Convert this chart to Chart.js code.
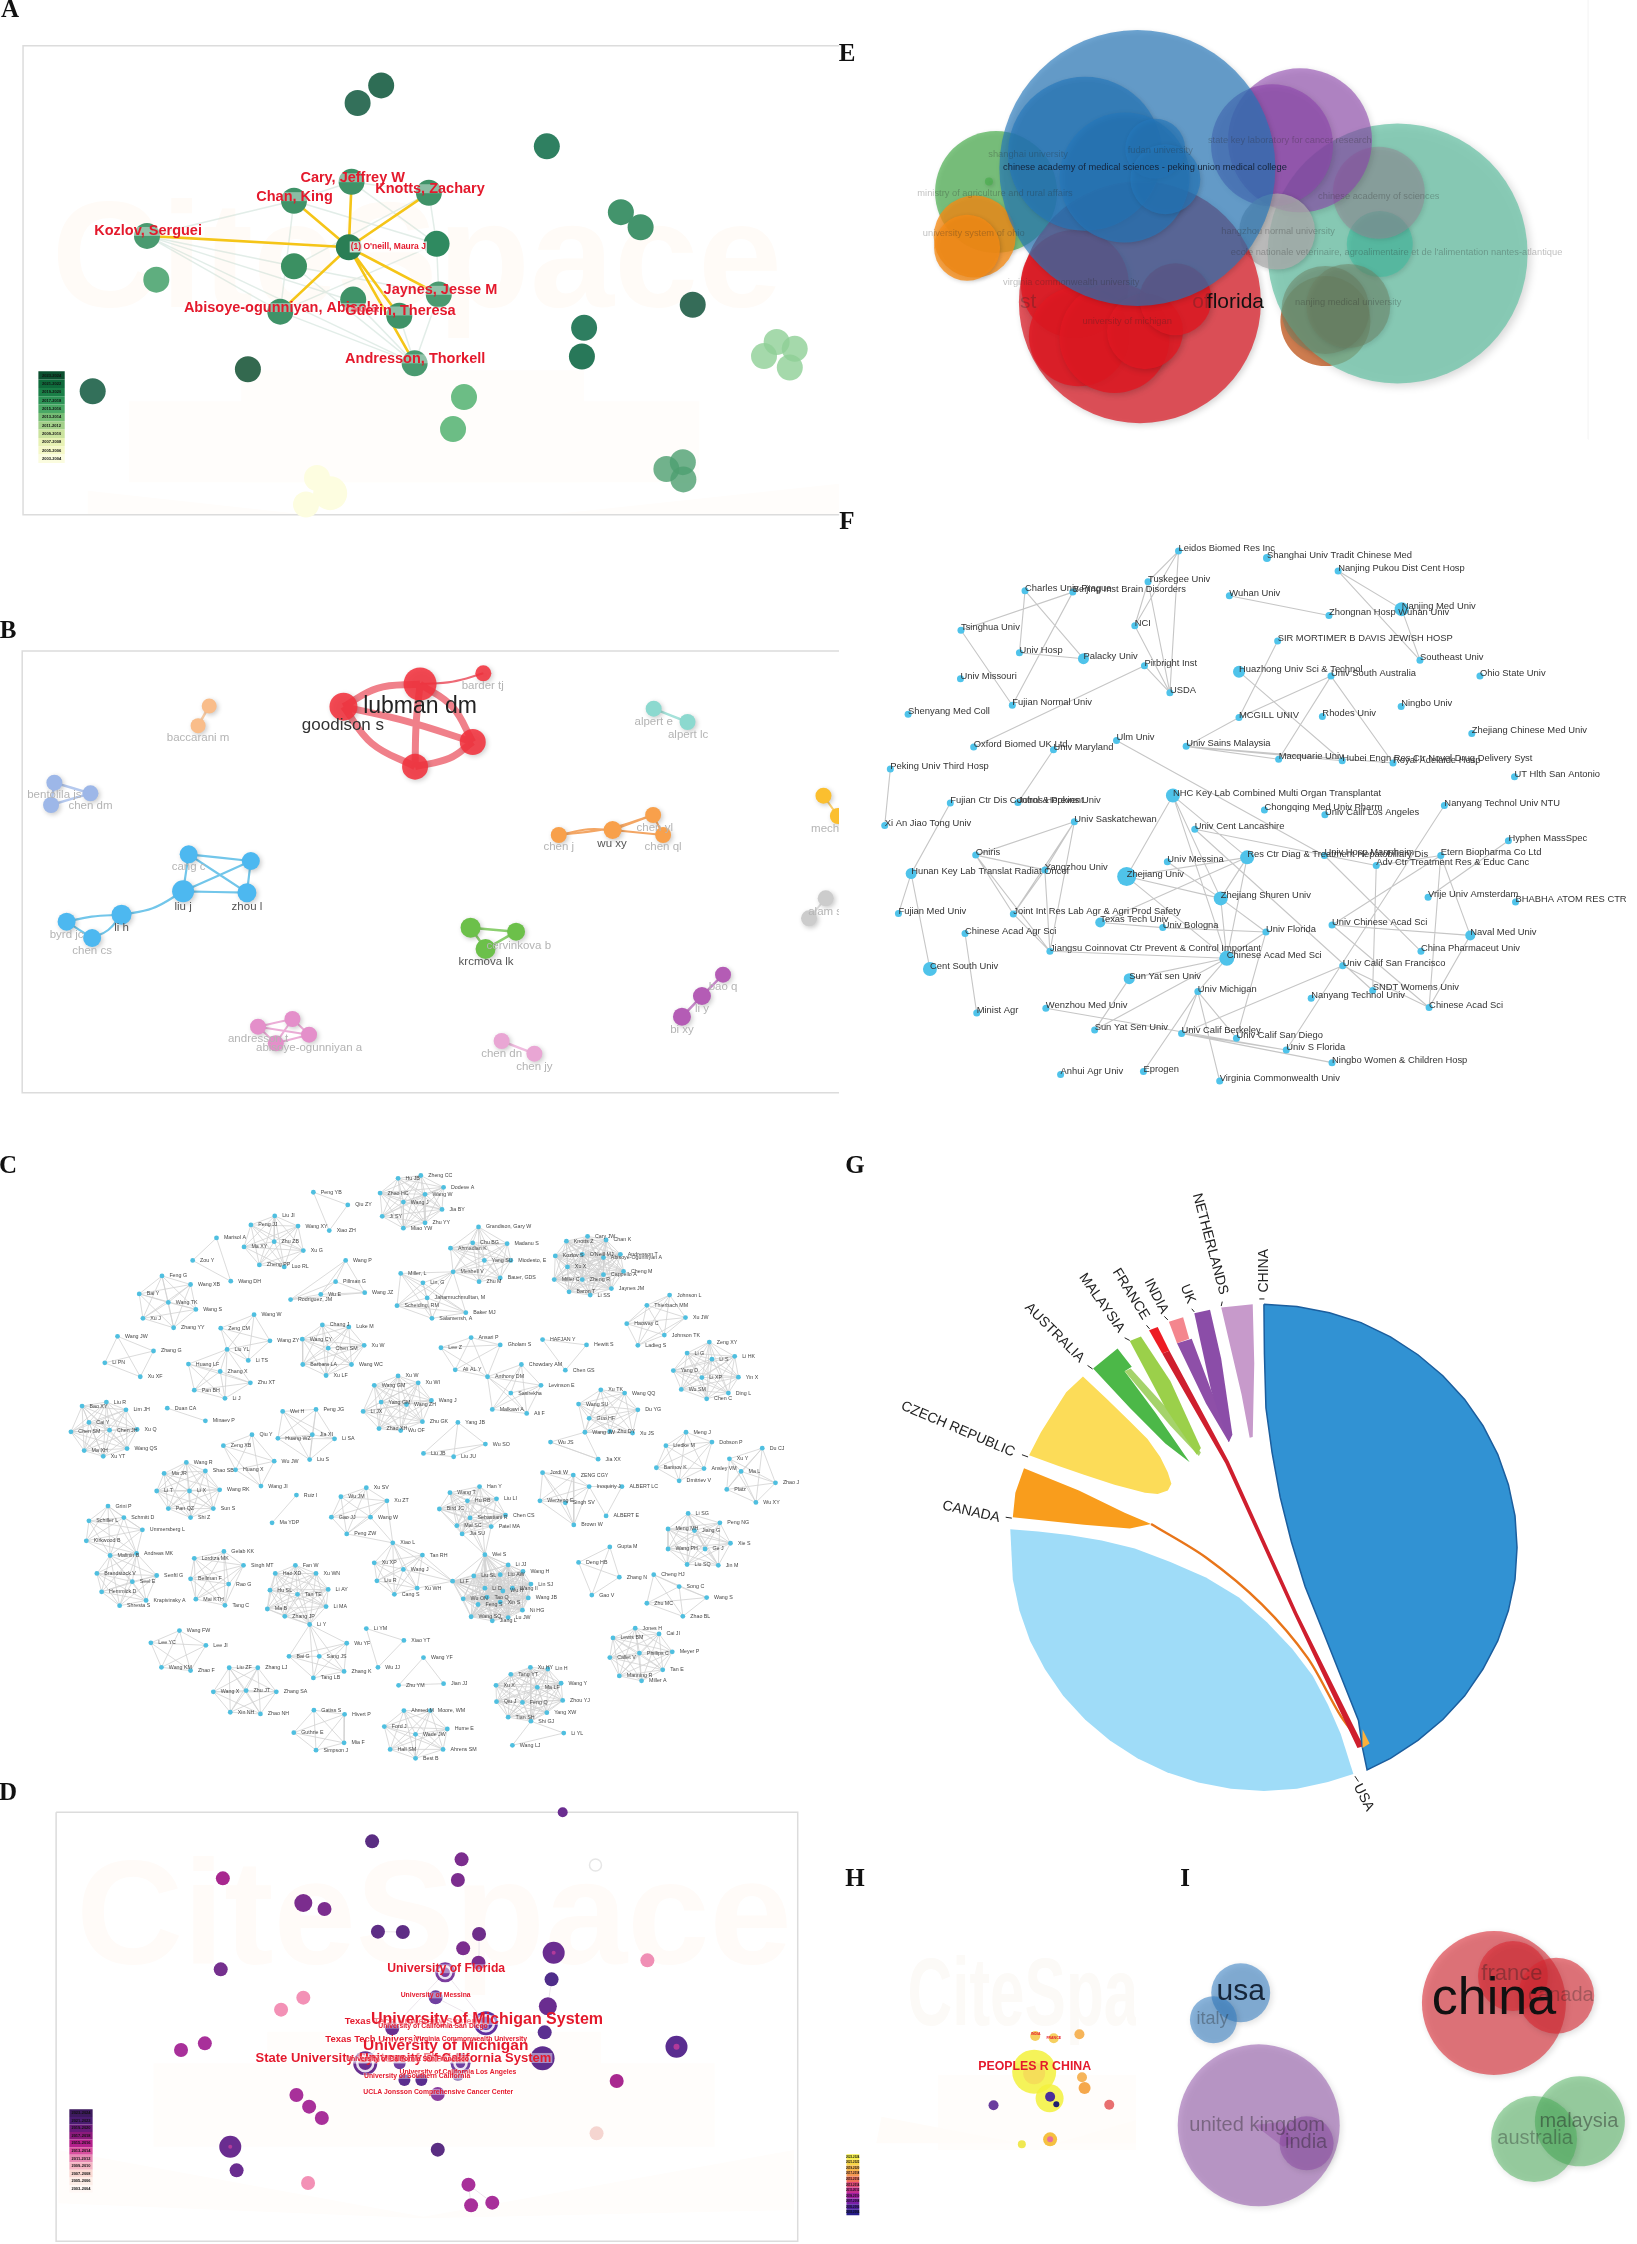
<!DOCTYPE html>
<html>
<head>
<meta charset="utf-8">
<script src="https://cdn.jsdelivr.net/npm/chart.js@4"></script>
<style>
  html, body { margin: 0; background: #fff; }
  #figure { position: relative; width: 1637px; height: 2244px; overflow: hidden; }
  #figure canvas { position: absolute; }
  .tag { position: absolute; font: bold 25px "Liberation Serif", serif; color: #111; transform: translate(-50%, -50%); }
</style>
</head>
<body>
<div id="figure"></div>
<script>
const sans = '"Liberation Sans", Arial, sans-serif';

// ---- panel letters
const tagNames = ['A', 'B', 'C', 'D', 'E', 'F', 'G', 'H', 'I'];
const tagX = [10, 8, 8, 8, 847, 847, 855, 855, 1185];
const tagY = [9, 630, 1165, 1792, 53, 521, 1165, 1878, 1878];

const legendYears = ['2023-2024', '2021-2022', '2019-2020', '2017-2018', '2015-2016', '2013-2014', '2011-2012', '2009-2010', '2007-2008', '2005-2006', '2003-2004'];

// ---- A: author co-citation
const aNodes = [[695,248],[652,299],[997,425],[1132,616],[1168,660],[268,685],[536,583],[641,528],[782,560],[796,708],[636,718],[536,773],[285,812],[644,870],[800,855],[728,917],[511,905],[1263,885],[1065,952],[1061,1035],[452,1072],[169,1136],[756,1055],[846,1153],[826,1246],[1416,993],[1449,1013],[1393,1034],[1440,1067],[1215,1362],[1245,1342],[1246,1392],[578,1388],[602,1432],[558,1465]];
const aColors = ['#2e6d55','#33705a','#2f8061','#43946c','#43946c','#4a9a70','#3f9268','#3f9268','#3f9268','#2f8a60','#2a7e55','#3b9062','#5fae7f','#3f9268','#4a9a70','#3f9268','#3f9268','#356c58','#2e7e60','#287859','#33694f','#33705a','#4a9a70','#6cbd85','#6cbd85','#8ecf96cc','#8ecf96cc','#8ecf96cc','#8ecf96cc','#4d9f70cc','#4d9f70cc','#4d9f70cc','#fdfde0','#fdfde0','#fdfde0'];
const aRadius = [13,13,13,13,13,13,13,13,13,13,13,13,13,13,13,13,13,13,13,13,13,13,13,13,13,13,13,13,13,13,13,13,13,17,13];
const aGold = [[636,718,268,685],[636,718,536,583],[636,718,641,528],[636,718,782,560],[636,718,511,905],[636,718,800,855],[636,718,728,917],[636,718,756,1055]];
const aFaint = [[268,685,536,583],[268,685,536,773],[268,685,511,905],[268,685,756,1055],[268,685,728,917],[536,583,641,528],[536,583,796,708],[536,583,511,905],[641,528,782,560],[641,528,796,708],[782,560,796,708],[782,560,536,773],[796,708,800,855],[796,708,511,905],[536,773,800,855],[511,905,756,1055],[644,870,756,1055],[800,855,756,1055],[728,917,756,1055],[536,773,756,1055]];
const aLabels = [['Cary, Jeffrey W',643,516],['Knotts, Zachary',784,548],['Chan, King',537,571],['Kozlov, Serguei',270,672],['Jaynes, Jesse M',803,843],['Abisoye-ogunniyan, Abisola',513,893],['Guerin, Theresa',730,903],['Andresson, Thorkell',757,1042]];
const aLegendColors = ['#0b4f2f','#0f6a3b','#1a7f47','#2d9356','#4aa865','#76bd75','#a3d08a','#cbe39e','#e8f2b4','#f5f8c8','#fbfcdf'];

// ---- B: author cluster map
const bGroups = [
  { color: '#f2323ee0', edge: '#f0808a', width: 7, nodes: [[757,222,16.5],[619,290,14],[852,396,13],[748,470,13]], edges: [[619,290,680,235,757,222],[619,290,735,335,852,396],[619,290,670,400,748,470],[757,222,815,290,852,396],[757,222,750,340,748,470],[852,396,810,445,748,470]] },
  { color: '#f2323ee0', edge: '#ee6a76', width: 2, nodes: [[871,190,8]], edges: [[757,222,815,215,871,190]] },
  { color: '#f9bd8a', edge: '#f9cda6', width: 2.5, nodes: [[377,288,7.5],[357,347,7.5]], edges: [[377,288,357,347]] },
  { color: '#8cd9cf', edge: '#a6e2da', width: 2.5, nodes: [[1178,296,8],[1239,336,8]], edges: [[1178,296,1239,336]] },
  { color: '#9db7e8', edge: '#b5c9ee', width: 2.5, nodes: [[98,518,8],[163,550,8],[92,585,8]], edges: [[98,518,163,550],[98,518,92,585],[163,550,92,585]] },
  { color: '#f8a04b', edge: '#f3a664', width: 2, nodes: [[1007,675,8],[1104,660,9],[1177,615,8],[1195,675,8]], edges: [[1007,675,1060,658,1104,660],[1104,660,1177,615],[1104,660,1195,675],[1177,615,1195,675],[1007,675,1100,655,1177,615]] },
  { color: '#fbbf2f', edge: '#fbd06f', width: 2, nodes: [[1484,557,8],[1510,618,8]], edges: [[1484,557,1510,618]] },
  { color: '#cccccc', edge: '#dddddd', width: 2, nodes: [[1488,865,8],[1458,925,8]], edges: [[1488,865,1458,925]] },
  { color: '#4db8f0', edge: '#72c6ea', width: 2.2, nodes: [[340,733,9],[452,753,9],[330,844,11],[445,848,9.5],[219,914,10],[120,935,9],[166,984,9]], edges: [[340,733,452,753],[340,733,330,844],[340,733,445,848],[452,753,330,844],[452,753,445,848],[330,844,445,848],[330,844,275,895,219,914],[219,914,165,920,120,935],[219,914,195,960,166,984],[120,935,166,984]] },
  { color: '#6cc04a', edge: '#8ccf70', width: 2.5, nodes: [[848,953,10],[930,965,9],[875,1017,10]], edges: [[848,953,930,965],[848,953,875,1017],[930,965,875,1017]] },
  { color: '#b45cb5', edge: '#c688c8', width: 2.5, nodes: [[1303,1094,8],[1265,1158,9],[1229,1220,9]], edges: [[1303,1094,1265,1158],[1265,1158,1229,1220]] },
  { color: '#e48fca', edge: '#ecaed8', width: 2, nodes: [[465,1250,8],[527,1227,8],[557,1274,8],[497,1300,8]], edges: [[465,1250,527,1227],[465,1250,557,1274],[465,1250,497,1300],[527,1227,557,1274],[527,1227,497,1300],[557,1274,497,1300]] },
  { color: '#e9a6d4', edge: '#efbcdf', width: 2.5, nodes: [[904,1293,8],[963,1331,8]], edges: [[904,1293,963,1331]] }
];
const bFaintLabels = [['baccarani m',357,383],['alpert e',1178,335],['alpert lc',1240,375],['bentolila js',98,555],['chen dm',163,587],['chen j',1007,711],['chen yl',1180,652],['chen ql',1195,711],['mech',1487,655],['alam s',1487,905],['cang c',340,771],['byrd jc',120,975],['chen cs',166,1023],['cervinkova b',935,1006],['bao q',1303,1131],['li y',1265,1197],['bi xy',1229,1258],['andresson t',465,1287],['abisoye-ogunniyan a',557,1313],['chen dn',904,1331],['chen jy',963,1369],['barder tj',870,228]];
const bDarkLabels = [['wu xy',1103,701],['liu j',330,891],['zhou l',445,889],['li h',219,953],['krcmova lk',876,1056]];

// ---- C: author collaboration network, one list per cluster
const cClusters = [
  [['Hu JB',752,94],['Zheng CC',795,87],['Dodeve A',838,116],['Zhao HC',718,130],['Wang W',803,133],['Wang J',762,152],['Jia BY',835,170],['Ji SY',722,187],['Zhu YY',803,203],['Miao YW',762,216]],
  [['Peng YB',592,128],['Qiu ZY',657,159],['Xiao ZH',622,222]],
  [['Liu JI',519,186],['Peng JJ',474,208],['Wang XY',563,211],['Ma XY',461,262],['Zhu ZB',518,249],['Xu G',573,271],['Zheng PP',490,306],['Luo RL',537,311]],
  [['Marisol A',409,240],['Zou Y',364,295],['Wang DH',436,346]],
  [['Wang P',653,295],['Pillman G',634,347],['Wu E',606,378],['Wang JZ',689,374],['Rodriguez, JM',549,391]],
  [['Grandison, Gary W',904,213],['Chu BG',893,252],['Madanu S',958,254],['Ahmadian K',851,265],['Yang SU',915,295],['Miodesto, E',965,295],['Meshell V',856,323],['Bauer, GDS',945,338],['Zhu M',905,347]],
  [['Miller, L',757,327],['Lin, G',799,350],['Jaharmuchmulltan, M',807,387],['Scheiding, RM',750,406],['Baker MJ',880,423],['Salamensh, A',816,437],['Meshell V',856,323]],
  [['Knotts Z',1070,248],['Cary JW',1110,236],['Chan K',1145,245],['Kozlov S',1049,284],["O'Neill MJ",1100,280],['Andresson T',1172,280],['Abisoye-Ogunniyan A',1140,288],['Xu X',1072,311],['Cheng M',1178,322],['Cappello A',1140,330],['Miller C',1047,342],['Zheng R',1100,342],['Baron T',1075,372],['Li SS',1115,380],['Jaynes JM',1155,364]],
  [['Johnson L',1265,380],['Thierbach MM',1222,405],['Xu JW',1295,435],['Haoway C',1184,450],['Johnson TK',1255,478],['Ladieg S',1205,503]],
  [['Feng G',306,333],['Wang XB',360,354],['Bai Y',263,377],['Wang TK',318,398],['Wang S',370,415],['Xu J',270,437],['Zhang YY',328,460]],
  [['Wang JW',222,481],['Zhang G',290,517],['Li PN',198,546],['Xu XF',265,580]],
  [['Wang W',480,428],['Zeng CM',417,461],['Wang ZY',510,492],['Li TS',469,540],['Liu YL',429,513]],
  [['Liu YL',429,513],['Huang LF',356,549],['Zhang X',416,567],['Pan BH',367,613],['Zhu XT',473,595],['Li J',425,633]],
  [['Chang J',609,453],['Luke M',659,458],['Wang CY',571,488],['Xu W',688,503],['Chen SM',620,510],['Barbara LA',572,550],['Wang WC',664,550],['Xu LF',616,577]],
  [['Lee Z',833,509],['Ansari P',890,484],['Gholam S',945,502],['Ali AL Y',860,563],['Anthony DM',921,580]],
  [['Anthony DM',921,580],['Chowdary AM',985,550],['Sasirekha',965,620],['Levinson E',1022,601],['Malkawi A',930,660],['Ali F',995,670]],
  [['HAFJAN Y',1025,489],['Hewitt S',1108,502],['Chen GS',1068,564]],
  [['Zeng XY',1340,495],['Li G',1298,522],['Li S',1345,537],['Li HK',1388,530],['Yang D',1272,565],['Li XP',1326,582],['Yin X',1395,581],['Wu SM',1287,611],['Ding L',1376,620],['Chen C',1335,634]],
  [['Xu W',752,578],['Xu WI',790,595],['Wang GM',707,601],['Wang J',815,638],['Yang GM',720,642],['Wang ZH',768,648],['Li JX',686,665],['Zhu GK',798,690],['Zhao XH',716,707],['Wu OF',757,712]],
  [['Duan CA',316,657],['Minaev P',388,688]],
  [['Bao XY',155,652],['Liu R',201,642],['Lim JH',238,661],['Cai Y',168,692],['Chen JH',207,711],['Xu Q',259,709],['Chen SM',134,715],['Ma XH',159,761],['Wang QS',240,756],['Xu YT',195,775]],
  [['Wei H',534,665],['Peng JG',597,660],['Huang WZ',525,731],['Jia XI',590,722],['Li SA',632,732],['Liu S',585,783]],
  [['Yang JB',865,692],['Wu SO',917,745],['Liu JB',800,768],['Liu JU',857,776]],
  [['Xu TK',1135,612],['Wang QQ',1180,620],['Wang SU',1093,647],['Du YG',1205,661],['Guo HF',1113,682],['Wang JW',1105,716],['Zhu DY',1152,714],['Xu JS',1195,718]],
  [['Wang JW',1105,716],['Wu JS',1040,740],['Jia XX',1130,782]],
  [['Zeng XB',422,749],['Qiu Y',476,722],['Wu JW',518,787],['Huang X',445,808],['Wang JI',493,848]],
  [['Meng J',1296,716],['Liedke M',1258,749],['Dobson P',1345,740],['Barinov K',1240,803],['Ansley VM',1330,805],['Dmitriev V',1283,835]],
  [['Xu Y',1378,781],['Du CJ',1440,755],['Ma L',1400,812],['Zhao J',1465,840],['Platz',1373,856],['Wu XY',1428,888]],
  [['Wang R',352,790],['Shao SB',388,811],['Ma JR',310,817],['Li X',358,860],['Wang RK',415,857],['Li T',296,860],['Pan QZ',318,903],['Sun S',403,903],['Shi Z',360,925]],
  [['Jordi W',1025,815],['ZENG CGY',1083,821],['Inoquiriy J',1113,849],['Werzeng E',1020,884],['Singh SV',1068,889],['Brown W',1084,943]],
  [['Inoquiriy J',1113,849],['ALBERT LC',1175,849],['ALBERT E',1145,921]],
  [['Ruiz I',560,870],['Ma YDP',514,938]],
  [['Xu SV',692,852],['Wu JM',644,874],['Xu ZT',731,884],['Wang W',700,924],['Gao JJ',626,924],['Peng ZW',655,965]],
  [['Wang T',850,864],['Han Y',906,849],['Hu RB',883,884],['Liu LI',938,879],['Bird JC',830,904],['Sebastiani R',888,926],['Chen CS',955,919],['Mai SC',863,945],['Patel MA',928,947],['Jia SU',873,965]],
  [['Li SG',1300,915],['Peng NG',1360,938],['Meng MH',1262,953],['Jiang G',1312,957],['Ge J',1332,1002],['Wang PH',1262,1002],['Xie S',1380,988],['Liu SQ',1298,1040],['Jin M',1357,1042]],
  [['Wei S',916,1016],['Li JJ',960,1041],['Wang H',988,1057],['Liu SL',895,1068],['Liu AW',945,1065],['Lin SJ',1003,1088],['Li D',916,1098],['Wang Il',968,1098],['Li F',855,1081],['Wang JB',998,1122],['Wu ON',875,1124],['Xin S',945,1132],['Feng S',903,1138],['Ni HG',987,1152],['Wang SQ',890,1168],['Jiang L',930,1178],['Lu JW',960,1170],['Tao Q',920,1120],['Wu H',950,1105]],
  [['Gupta M',1152,997],['Deng HB',1093,1035],['Zhang N',1170,1071],['Gao V',1118,1115]],
  [['Xiao L',742,987],['Tan RH',798,1017],['Xu XP',707,1036],['Wang J',762,1052],['Liu R',712,1080],['Xu WH',788,1098],['Cang S',745,1113]],
  [['Grini P',204,897],['Schmitt D',234,925],['Schiller L',168,933],['Ummersberg L',269,955],['Kirkwood B',163,982],['Malinin B',208,1018],['Andreas MK',258,1013]],
  [['Malinin B',208,1018],['Andreas MK',258,1013],['Brandstock V',183,1062],['Senftl G',296,1067],['Seel E',250,1082],['Hemmick D',192,1107],['Krapivinsky A',276,1128],['Shresta S',226,1141]],
  [['Gelab KK',423,1008],['Lordtza MK',367,1025],['Singh MT',460,1042],['Bellman F',360,1075],['Rao G',432,1088],['Mai KTH',370,1125],['Tang C',425,1140]],
  [['Fan W',558,1042],['Hao XD',520,1062],['Xu WN',597,1062],['Hu SL',510,1103],['Tan TE',562,1113],['Li AY',620,1101],['Ma B',505,1149],['Li MA',616,1143],['Zhang JP',538,1167],['Li Y',585,1187]],
  [['Cheng HJ',1235,1065],['Song C',1283,1094],['Wang S',1335,1121],['Zhu MC',1222,1135],['Zhao BL',1290,1167]],
  [['Wang FW',339,1202],['Lee YC',285,1232],['Lee JI',389,1238],['Wang KM',305,1292],['Zhao F',360,1300]],
  [['Li Y',585,1187],['Wu YF',655,1233],['Bai G',546,1265],['Sang JS',603,1265],['Tang LB',592,1318],['Zhang K',650,1302]],
  [['Li YM',692,1197],['Xiao YT',763,1226],['Wu JJ',714,1292]],
  [['Wang YF',800,1268],['Zhu YM',753,1336],['Jian JJ',838,1332]],
  [['Jones H',1200,1196],['Lewis BM',1158,1220],['Cai JI',1245,1210],['Phillips C',1208,1257],['Meyer P',1270,1254],['Callet V',1152,1268],['Tan E',1252,1298],['Manning R',1170,1313],['Miller A',1212,1325]],
  [['Liu ZF',433,1293],['Zhang LJ',487,1293],['Wang X',403,1352],['Zhu JT',465,1349],['Zhang SA',522,1352],['Xin NH',435,1402],['Zhao NH',492,1406]],
  [['Xu HY',1002,1292],['Lin H',1035,1296],['Tang YT',965,1309],['Xu X',937,1336],['Wang Y',1060,1331],['Ma LF',1015,1341],['Qiu J',938,1376],['Feng Q',987,1378],['Zhou YJ',1063,1373],['Yang XW',1033,1403],['Tian SH',960,1414],['Shi GJ',1003,1424]],
  [['Shi GJ',1003,1424],['Li YL',1065,1453],['Wang LJ',968,1483]],
  [['Gatiss S',593,1397],['Hivert P',651,1407],['Guthrie E',555,1452],['Mia F',650,1477],['Simpson J',597,1495]],
  [['Ahmed M',763,1398],['Moore, WM',813,1398],['Ford J',726,1437],['Hume E',845,1443],['Wade JW',785,1456],['Hall SM',737,1493],['Ahrens SM',837,1493],['Best B',785,1515]]
];
const cLinks = [[742,987,655,965],[742,987,731,884],[742,987,700,924],[742,987,855,1081],[798,1017,855,1081],[762,1052,855,1081],[788,1098,855,1081],[916,1016,850,864],[916,1016,906,849],[916,1016,928,947],[916,1016,873,965],[916,1016,888,926],[1040,740,1130,782]];

// ---- D: institutions timeline
const dNodes = [[703,214,7],[872,268,7],[421,325,7],[865,330,7],[573,399,9],[613,417,7],[714,485,7],[761,486,7],[905,492,7],[875,535,7],[1046,548,11],[1223,571,7],[417,598,7],[904,578,7],[841,607,10],[1042,628,7],[573,683,7],[531,719,7],[823,682,7],[1035,709,9],[918,760,12],[1029,787,7],[387,820,7],[342,840,7],[1278,830,11],[1025,865,12],[741,775,7],[690,880,12],[870,880,10],[755,880,6],[764,930,6],[796,930,6],[865,915,6],[1165,933,7],[560,975,7],[584,1010,7],[608,1044,7],[827,972,7],[1127,1090,7],[435,1130,11],[827,1139,7],[447,1201,7],[582,1239,7],[885,1244,7],[930,1298,7],[890,1306,7],[1063,127,5]];
const dColors = ['#5a2d82','#7b2d8e','#a8288f','#7b2d8e','#7b2d8e','#7b2d8e','#5e2d85','#5e2d85','#6e2d8a','#7b2d8e','#6a2d90','#f08fb5','#75308e','#7b2d8e','#7b3d9e','#4f2d8a','#f391b6','#f391b6','#7040a0','#6a2d90','#6030a0','#5a3090','#a8309a','#a8309a','#5a2d90','#5e2d8e','#6a3090','#6a3090','#7040a0','#7040a0','#5a2d8e','#5a2d8e','#a08cc0','#a8288f','#a8309a','#a8309a','#a8309a','#8a3d9e','#f5d5d0','#6a2d90','#5a2d82','#6a2d90','#f391b6','#a8309a','#a8309a','#a8309a','#6a2d90'];
const dRings = [[841,607,6],[918,760,8],[690,880,8],[870,880,6]];
const dHollow = [[1125,285,6]];
const dCores = [[1046,548,2],[1278,830,3],[435,1130,2]];
const dLinks = [[714,485,761,486],[905,492,905,590],[885,1244,890,1306],[885,1244,930,1298],[841,607,741,775],[841,607,918,760],[823,682,918,760],[741,775,690,880],[918,760,870,880],[1042,628,1035,709]];
const dTopLabels = [['University of Michigan System',920,750]];
const dMichigan = [['University of Michigan',842,827]];
const dSystemLabels = [['State University System of Florida',682,866],['University of California System',860,864]];
const dFlorida = [['University of Florida',843,596]];
const dTexasLabels = [['Texas Tech University System',779,755],['Texas Tech University',708,807]];
const dSmallLabels = [['University of Messina',823,676],['University of California San Diego',818,767],['Virginia Commonwealth University',890,807],['University of California San Francisco',770,868],['University of California Los Angeles',865,906],['University of Southern California',788,918],['UCLA Jonsson Comprehensive Cancer Center',828,966]];
const dLegendColors = ['#3d1a5e','#4b1c72','#6a1a7a','#8c1a7d','#b5208c','#d94f9f','#e88bb5','#f4b5c4','#fad9d3','#fdeee8','#fff8f5'];

// ---- E: institution overlay
const eBrown = [[955,950,45]];
const eTeal = [[1097,750,130]];
const eTealInner = [[1062,722,33]];
const eOlive = [[955,917,44],[1000,905,42]];
const ePurple = [[905,415,72],[850,430,61]];
const eMauve = [[1060,570,46]];
const eGrey = [[860,685,38]];
const eRed = [[590,894,121]];
const eRedInner = [[462,840,54],[470,995,50],[540,1000,55],[600,980,38],[660,885,36]];
const eGreen = [[307,568,61],[293,537,4]];
const eOrange = [[265,700,41],[250,733,33]];
const eBlue = [[585,497,138],[482,455,77],[560,525,65],[620,440,30],[640,530,35]];
const eFaintLabels = [['ministry of agriculture and rural affairs',305,572],['university system of ohio',263,692],['state key laboratory for cancer research',885,415],['hangzhou normal university',862,685],['chinese academy of sciences',1060,582],['ecole nationale veterinaire, agroalimentaire et de l\'alimentation nantes-atlantique',1095,748],['nanjing medical university',1000,895],['virginia commonwealth university',455,835],['university of michigan',565,950],['fudan university',630,445],['shanghai university',370,458]];

// ---- F: institution network
const fNodes = [['Leidos Biomed Res Inc',666,111,3.5],['Shanghai Univ Tradit Chinese Med',840,130,4],['Nanjing Pukou Dist Cent Hosp',980,165,3.5],['Tuskegee Univ',606,194,3.5],['Charles Univ Prague',364,218,3.5],['Beijing Inst Brain Disorders',458,222,3.5],['Wuhan Univ',766,232,3.5],['NCI',580,313,3.5],['Nanjing Med Univ',1105,268,7],['Zhongnan Hosp Wuhan Univ',962,285,3.5],['Tsinghua Univ',238,325,3.5],['SIR MORTIMER B DAVIS JEWISH HOSP',861,354,3.5],['Univ Hosp',353,386,3.5],['Palacky Univ',479,402,5.5],['Southeast Univ',1141,406,3.5],['Pirbright Inst',599,421,3.5],['Huazhong Univ Sci & Technol',785,437,6],['Univ South Australia',966,449,3.5],['Ohio State Univ',1259,449,3.5],['Univ Missouri',237,456,3.5],['USDA',649,494,3.5],['Fujian Normal Univ',339,528,3.5],['Ningbo Univ',1104,531,3.5],['Shenyang Med Coll',134,552,3.5],['MCGILL UNIV',785,561,3.5],['Rhodes Univ',949,558,3.5],['Zhejiang Chinese Med Univ',1243,604,3.5],['Ulm Univ',544,623,3.5],['Univ Sains Malaysia',681,639,3.5],['Oxford Biomed UK Ltd',263,641,3.5],['Univ Maryland',420,648,3.5],['Macquarie Univ',863,674,3.5],['Hubei Engn Res Ctr Novel Drug Delivery Syst',988,678,3.5],['Royal Adelaide Hosp',1088,684,3.5],['Peking Univ Third Hosp',99,700,3.5],['UT Hlth San Antonio',1327,721,3.5],['NHC Key Lab Combined Multi Organ Transplantat',655,772,7],['Fujian Ctr Dis Control & Prevent',217,792,3.5],['Johns Hopkins Univ',350,791,3.5],['Nanyang Technol Univ NTU',1189,799,3.5],['Chongqing Med Univ Pharm',835,811,3.5],['Univ Calif Los Angeles',954,824,3.5],['Univ Saskatchewan',461,843,3.5],['Xi An Jiao Tong Univ',88,853,3.5],['Univ Cent Lancashire',698,863,3.5],['Hyphen MassSpec',1315,894,3.5],['Oniris',267,933,3.5],['Res Ctr Diag & Treatment Hepatobiliary Dis',801,939,7],['Univ Hosp Mannheim',953,934,3.5],['Etern Biopharma Co Ltd',1182,934,3.5],['Univ Messina',644,951,3.5],['Adv Ctr Treatment Res & Educ Canc',1055,961,3.5],['Yangzhou Univ',403,973,3.5],['Hunan Key Lab Translat Radiat Oncol',140,983,5.5],['Zhejiang Univ',564,991,9.5],['Zhejiang Shuren Univ',749,1050,7],['Vrije Univ Amsterdam',1157,1047,3.5],['BHABHA ATOM RES CTR',1329,1060,3.5],['Fujian Med Univ',115,1091,3.5],['Joint Int Res Lab Agr & Agri Prod Safety',341,1092,3.5],['Texas Tech Univ',512,1115,5],['Univ Chinese Acad Sci',968,1122,3.5],['Univ Bologna',635,1129,3.5],['Univ Florida',838,1141,3.5],['Chinese Acad Agr Sci',246,1145,3.5],['Naval Med Univ',1240,1150,5],['China Pharmaceut Univ',1143,1193,3.5],['Jiangsu Coinnovat Ctr Prevent & Control Important',413,1193,3.5],['Chinese Acad Med Sci',761,1212,7.5],['Univ Calif San Francisco',989,1232,3.5],['Cent South Univ',177,1241,7],['Sun Yat sen Univ',569,1267,5.5],['SNDT Womens Univ',1048,1299,3.5],['Univ Michigan',704,1302,3.5],['Nanyang Technol Univ',927,1320,3.5],['Chinese Acad Sci',1159,1345,3.5],['Wenzhou Med Univ',405,1347,3.5],['Minist Agr',269,1360,3.5],['Sun Yat Sen Univ',501,1406,3.5],['Univ Calif Berkeley',672,1415,3.5],['Univ Calif San Diego',780,1428,3.5],['Univ S Florida',878,1460,3.5],['Ningbo Women & Children Hosp',968,1494,3.5],['Anhui Agr Univ',434,1526,3.5],['Eprogen',597,1518,3.5],['Virginia Commonwealth Univ',747,1544,3.5]];
const fEdges = [['Leidos Biomed Res Inc','Tuskegee Univ'],['Leidos Biomed Res Inc','NCI'],['Leidos Biomed Res Inc','USDA'],['Tuskegee Univ','NCI'],['Tuskegee Univ','USDA'],['NCI','USDA'],['Charles Univ Prague','Univ Hosp'],['Charles Univ Prague','Palacky Univ'],['Beijing Inst Brain Disorders','Tsinghua Univ'],['Beijing Inst Brain Disorders','Fujian Normal Univ'],['Tsinghua Univ','Fujian Normal Univ'],['Univ Hosp','Palacky Univ'],['Pirbright Inst','USDA'],['Pirbright Inst','Oxford Biomed UK Ltd'],['Wuhan Univ','Zhongnan Hosp Wuhan Univ'],['Nanjing Pukou Dist Cent Hosp','Nanjing Med Univ'],['Nanjing Pukou Dist Cent Hosp','Southeast Univ'],['Nanjing Med Univ','Southeast Univ'],['SIR MORTIMER B DAVIS JEWISH HOSP','MCGILL UNIV'],['Huazhong Univ Sci & Technol','Hubei Engn Res Ctr Novel Drug Delivery Syst'],['Univ South Australia','MCGILL UNIV'],['Univ South Australia','Macquarie Univ'],['Univ South Australia','Royal Adelaide Hosp'],['MCGILL UNIV','Univ Sains Malaysia'],['Univ Sains Malaysia','Macquarie Univ'],['Univ Sains Malaysia','Royal Adelaide Hosp'],['Univ Sains Malaysia','Hubei Engn Res Ctr Novel Drug Delivery Syst'],['Ulm Univ','Univ Hosp Mannheim'],['Univ Maryland','Johns Hopkins Univ'],['Peking Univ Third Hosp','Xi An Jiao Tong Univ'],['Fujian Ctr Dis Control & Prevent','Hunan Key Lab Translat Radiat Oncol'],['Hunan Key Lab Translat Radiat Oncol','Fujian Med Univ'],['Hunan Key Lab Translat Radiat Oncol','Cent South Univ'],['Chinese Acad Agr Sci','Minist Agr'],['Univ Saskatchewan','Oniris'],['Univ Saskatchewan','Joint Int Res Lab Agr & Agri Prod Safety'],['Univ Saskatchewan','Yangzhou Univ'],['Univ Saskatchewan','Jiangsu Coinnovat Ctr Prevent & Control Important'],['Oniris','Yangzhou Univ'],['Oniris','Joint Int Res Lab Agr & Agri Prod Safety'],['Oniris','Jiangsu Coinnovat Ctr Prevent & Control Important'],['Yangzhou Univ','Joint Int Res Lab Agr & Agri Prod Safety'],['Yangzhou Univ','Jiangsu Coinnovat Ctr Prevent & Control Important'],['Joint Int Res Lab Agr & Agri Prod Safety','Jiangsu Coinnovat Ctr Prevent & Control Important'],['NHC Key Lab Combined Multi Organ Transplantat','Zhejiang Univ'],['NHC Key Lab Combined Multi Organ Transplantat','Res Ctr Diag & Treatment Hepatobiliary Dis'],['NHC Key Lab Combined Multi Organ Transplantat','Zhejiang Shuren Univ'],['NHC Key Lab Combined Multi Organ Transplantat','Chinese Acad Med Sci'],['Univ Cent Lancashire','Adv Ctr Treatment Res & Educ Canc'],['Univ Cent Lancashire','SNDT Womens Univ'],['Univ Hosp Mannheim','China Pharmaceut Univ'],['Res Ctr Diag & Treatment Hepatobiliary Dis','Zhejiang Univ'],['Res Ctr Diag & Treatment Hepatobiliary Dis','Zhejiang Shuren Univ'],['Res Ctr Diag & Treatment Hepatobiliary Dis','Chinese Acad Med Sci'],['Univ Messina','Zhejiang Shuren Univ'],['Zhejiang Univ','Zhejiang Shuren Univ'],['Zhejiang Univ','Chinese Acad Med Sci'],['Zhejiang Shuren Univ','Univ Florida'],['Zhejiang Shuren Univ','Chinese Acad Med Sci'],['Texas Tech Univ','Res Ctr Diag & Treatment Hepatobiliary Dis'],['Texas Tech Univ','Univ Bologna'],['Univ Bologna','Univ Florida'],['Univ Florida','Chinese Acad Med Sci'],['Univ Florida','Univ Calif San Diego'],['Chinese Acad Med Sci','Sun Yat sen Univ'],['Chinese Acad Med Sci','Sun Yat Sen Univ'],['Chinese Acad Med Sci','Jiangsu Coinnovat Ctr Prevent & Control Important'],['Sun Yat sen Univ','Sun Yat Sen Univ'],['Univ Michigan','Eprogen'],['Univ Michigan','Virginia Commonwealth Univ'],['Univ Michigan','Univ Calif San Diego'],['Univ Michigan','Univ Calif Berkeley'],['Chinese Acad Med Sci','Univ Michigan'],['Wenzhou Med Univ','Univ S Florida'],['Univ Calif Berkeley','Univ Calif San Francisco'],['Univ Calif Berkeley','Univ S Florida'],['Univ Calif Berkeley','Ningbo Women & Children Hosp'],['Nanyang Technol Univ NTU','Univ S Florida'],['Hyphen MassSpec','Vrije Univ Amsterdam'],['Etern Biopharma Co Ltd','Chinese Acad Sci'],['Etern Biopharma Co Ltd','Naval Med Univ'],['Adv Ctr Treatment Res & Educ Canc','SNDT Womens Univ'],['Adv Ctr Treatment Res & Educ Canc','Etern Biopharma Co Ltd'],['Etern Biopharma Co Ltd','Univ Chinese Acad Sci'],['Univ Chinese Acad Sci','Naval Med Univ'],['Univ Chinese Acad Sci','Chinese Acad Sci'],['Naval Med Univ','Chinese Acad Sci'],['Univ Calif San Francisco','Chinese Acad Sci']];

// ---- G: country chord outline
const gBlue = [[834,368],[899,373],[963,387],[1025,409],[1083,441],[1137,481],[1186,528],[1229,581],[1265,640],[1294,704],[1315,772],[1328,842],[1332,913],[1328,984],[1315,1054],[1294,1122],[1265,1185],[1229,1245],[1186,1298],[1137,1345],[1083,1385],[1037,1411],[1028,1362],[1020,1300],[985,1200],[950,1100],[915,1000],[888,900],[866,800],[850,700],[838,600],[835,480]];
const gLightBlue = [[335,872],[340,984],[353,1054],[374,1122],[403,1185],[439,1245],[482,1298],[531,1345],[585,1385],[643,1416],[705,1439],[769,1453],[834,1458],[899,1453],[960,1438],[1010,1420],[985,1330],[960,1265],[930,1200],[890,1140],[840,1080],[785,1025],[720,980],[650,945],[580,915],[515,897],[450,885],[390,877]];
const gCanada = [[362,735],[345,790],[340,845],[480,862],[570,870],[612,860],[560,835],[470,785]];
const gCanadaTail = [[612,860],[720,935],[830,1040],[920,1160],[985,1290],[1030,1358]];
const gYellowTip = [[1028,1362],[1042,1352],[1028,1320]];
const gFranceTail = [[634,478],[648,472],[765,720],[900,1060],[1030,1358],[1018,1362],[893,1062],[758,724]];
const gFranceHead = [[608,426],[625,419],[648,472],[634,478]];
const gCzech = [[478,530],[445,565],[420,610],[395,655],[372,706],[430,730],[480,750],[540,772],[600,790],[625,793],[645,785],[652,770],[645,745],[630,710],[605,670],[570,630],[525,580]];
const gAustralia = [[498,512],[546,467],[574,508],[560,518],[620,610],[688,722],[640,680],[570,600]];
const gAustraliaInner = [[560,518],[572,512],[650,610],[710,700],[706,708],[650,640]];
const gMalaysia = [[570,450],[592,440],[650,540],[710,690],[702,705],[640,600]];
const gIndiaHead = [[647,407],[675,397],[687,445],[663,455]];
const gIndia = [[663,455],[692,445],[730,560],[770,660],[765,677],[720,590]];
const gUk = [[697,388],[728,380],[750,490],[772,660],[765,677],[730,560]];
const gNetherlands = [[750,375],[812,368],[815,500],[812,665],[806,667],[790,570]];
const gLabels = [['CHINA',835,293,-90],['NETHERLANDS',728,233,75],['UK',684,345,68],['INDIA',622,350,63],['FRANCE',572,345,58],['MALAYSIA',515,365,55],['AUSTRALIA',422,432,45],['CZECH REPUBLIC',232,648,23],['CANADA',258,833,12.7],['USA',1030,1473,63]];
const gTicks = [[825,356,835,356],[752,362,750,372],[692,378,697,385],[638,395,645,403],[603,415,609,423],[560,443,570,449],[487,505,497,513],[358,705,370,710],[326,845,338,847],[1013,1425,1020,1437]];

// ---- H: country timeline
const hYellow = [[397,665,22],[427,745,14]];
const hInner = [[397,670,11]];
const hSmall = [[399,558,5],[435,565,5],[485,553,5],[490,682,5],[495,714,6],[318,766,5],[543,764,5],[373,883,4],[428,868,7],[428,868,3],[428,740,5],[440,763,3]];
const hSmallColors = ['#f6d060','#f6d060','#f6b55a','#f6b55a','#f5a84c','#6a3d9e','#e87070','#f0e850','#f5c040','#e8709a','#4b2d9c','#1f1f6e'];
const hLegendColors = ['#f7f14a','#f9d648','#f8b74d','#f59a53','#f0705a','#de4a78','#c42f8f','#a11fa0','#7a1ea6','#4f1f9e','#251c8a'];

// ---- I: country overlay
const iBlue = [[798,428,29.5],[745,509,23.5]];
const iPurple = [[833,826,81],[926,880,27]];
const iRed = [[1290,459,72],[1327,378,35],[1411,437,38]];
const iGreen = [[1457,814,45],[1368,867,43]];
const iIndiaTail = [[825,825],[880,815],[900,880],[880,890]];

// ---- helpers
function toPts(list) { return list.map(p => ({ x: p[0], y: p[1] })); }

function bubbles(list, color, extra) {
  return Object.assign({ type: 'bubble', data: list.map(p => ({ x: p[0], y: p[1], r: p[2] })), backgroundColor: color, borderWidth: 0, clip: false }, extra);
}

// pairs [x0,y0,x1,y1,...] become one line dataset, with gaps between them
function links(list, color, width, tension) {
  const pts = [];
  list.forEach(e => {
    for (let i = 0; i < e.length; i += 2) pts.push({ x: e[i], y: e[i + 1] });
    pts.push({ x: null, y: null });
  });
  return { type: 'line', data: pts, borderColor: color, borderWidth: width, pointRadius: 0, tension: tension || 0, fill: false, clip: false };
}

function polyline(list, color, width) {
  return { type: 'line', data: toPts(list), borderColor: color, borderWidth: width, pointRadius: 0, tension: 0.3, fill: false, clip: false };
}

function shape(list, color, border) {
  return { type: 'line', data: toPts(list.concat([list[0]])), shapeFill: color, borderColor: border || color, borderWidth: border ? 1.5 : 0, pointRadius: 0, tension: 0, fill: false, clip: false };
}

function box(x0, y0, x1, y1) { return [[x0, y0], [x1, y0], [x1, y1], [x0, y1]]; }

function legendRows(colors, x0, x1, y0, step) {
  return colors.map((c, i) => shape(box(x0, y0 + i * step, x1, y0 + (i + 1) * step), c));
}

function legendText(x, y0, step) {
  return legendYears.map((t, i) => [t, x, y0 + (i + 0.5) * step]);
}

// fills a closed line dataset, and gives soft shadows to bubbles
Chart.register({
  id: 'panelShapes',
  beforeDatasetDraw(chart, args) {
    const ds = chart.data.datasets[args.index];
    const ctx = chart.ctx;
    if (ds.shapeFill) {
      ctx.save();
      ctx.beginPath();
      args.meta.dataset.path(ctx);
      ctx.closePath();
      ctx.fillStyle = ds.shapeFill;
      ctx.fill();
      ctx.restore();
    }
    if (ds.softShadow) {
      ctx.save();
      ctx.shadowColor = 'rgba(0,0,0,0.22)';
      ctx.shadowBlur = ds.softShadow;
      ctx.shadowOffsetX = ds.softShadow / 3;
      ctx.shadowOffsetY = ds.softShadow / 3;
    }
  },
  afterDatasetDraw(chart, args) {
    if (chart.data.datasets[args.index].softShadow) chart.ctx.restore();
  }
});

function paintText(chart, groups) {
  const ctx = chart.ctx;
  const xs = chart.scales.x, ys = chart.scales.y;
  groups.forEach(g => {
    ctx.save();
    ctx.font = g.font;
    ctx.textAlign = g.align || 'center';
    ctx.textBaseline = 'middle';
    g.items.forEach(t => {
      const px = xs.getPixelForValue(t[1]), py = ys.getPixelForValue(t[2]);
      ctx.save();
      ctx.translate(px, py);
      if (t[3]) ctx.rotate(t[3] * Math.PI / 180);
      if (g.stretch) ctx.scale(1, g.stretch);
      if (g.band) {
        const w = ctx.measureText(t[0]).width;
        ctx.fillStyle = g.band;
        ctx.fillRect(-w / 2 - 1, -g.bandHeight / 2, w + 2, g.bandHeight);
      }
      ctx.fillStyle = g.color;
      ctx.fillText(t[0], 0, 0);
      ctx.restore();
    });
    ctx.restore();
  });
}

const figure = document.getElementById('figure');

function panel(left, top, width, height, xMax, yMax, datasets, over, under) {
  const canvas = document.createElement('canvas');
  canvas.width = width;
  canvas.height = height;
  canvas.style.left = left + 'px';
  canvas.style.top = top + 'px';
  figure.appendChild(canvas);
  datasets.forEach((d, i) => { d.order = -i; });   // later sets paint on top
  return new Chart(canvas.getContext('2d'), {
    type: 'bubble',
    data: { datasets: datasets },
    options: {
      responsive: false,
      animation: false,
      devicePixelRatio: 1,
      events: [],
      layout: { padding: 0, autoPadding: false },
      plugins: { legend: { display: false }, tooltip: { enabled: false } },
      scales: {
        x: { type: 'linear', display: false, min: 0, max: xMax },
        y: { type: 'linear', display: false, min: 0, max: yMax, reverse: true }
      }
    },
    plugins: [{
      id: 'panelText',
      beforeDatasetsDraw(chart) { paintText(chart, under || []); },
      afterDatasetsDraw(chart) { paintText(chart, over || []); }
    }]
  });
}

const frameColor = '#dcdcdc';
const markColor = '#fffdfb';
const redText = '#e4192c';

// panel A
panel(0, 0, 860, 540, 1568, 1568, [
  shape(box(440, 1075, 1065, 1400), markColor),
  shape(box(235, 1165, 1275, 1400), markColor),
  shape([[160, 1425], [560, 1495], [160, 1495]], markColor),
  shape([[1000, 1495], [1530, 1405], [1530, 1495]], markColor),
  links([[1530, 133, 42, 133, 42, 1495, 1530, 1495]], frameColor, 1.5),
  links(aFaint, 'rgba(190,215,205,0.45)', 1.5),
  links(aGold, '#f5c518', 2.6),
  bubbles(aNodes.map((p, i) => [p[0], p[1], aRadius[i]]), aColors)
].concat(legendRows(aLegendColors, 70, 118, 1078, 24.2)), [
  { items: aLabels, font: 'bold 14.5px ' + sans, color: redText, band: 'rgba(255,255,255,0.4)', bandHeight: 9 },
  { items: [['(1) O\'neill, Maura J', 708, 717]], font: 'bold 8.5px ' + sans, color: redText, band: 'rgba(255,255,255,0.75)', bandHeight: 11 },
  { items: legendText(94, 1078, 24.2), font: 'bold 4px ' + sans, color: '#111' }
], [
  { items: [['CiteSpace', 760, 770]], font: 'bold 151px ' + sans, color: '#fffbf7' }
]);

// panel B, canvas stops where the reference crops its panel
panel(0, 610, 839, 490, 1512, 1470, [
  links([[1512, 123, 40, 123, 40, 1448, 1512, 1448]], frameColor, 1.5)
].concat(bGroups.map(g => links(g.edges, g.edge, g.width, 0.4)))
 .concat(bGroups.map(g => bubbles(g.nodes, g.color, { softShadow: 5 }))), [
  { items: bFaintLabels, font: '11.5px ' + sans, color: '#b4b4b4' },
  { items: bDarkLabels, font: '11.5px ' + sans, color: '#555' },
  { items: [['lubman dm', 757, 290]], font: '23px ' + sans, color: '#222' },
  { items: [['goodison s', 618, 347]], font: '17px ' + sans, color: '#333' }
]);

// panel C
const cEdges = [];
cClusters.forEach(c => {
  c.forEach((a, i) => c.slice(i + 1).forEach(b => cEdges.push([a[1], a[2], b[1], b[2]])));
});
const cSeen = {};
const cNodes = [];
cClusters.forEach(c => c.forEach(n => {
  const k = n[1] + '_' + n[2];
  if (!cSeen[k]) { cSeen[k] = 1; cNodes.push(n); }
}));
panel(0, 1140, 830, 640, 1568, 1568, [
  links(cEdges, '#d2d2d2', 0.8),
  links(cLinks, '#d2d2d2', 0.8),
  bubbles(cNodes.map(n => [n[1], n[2], 2.4]), '#4fbfe0')
], [
  { items: cNodes.map(n => [n[0], n[1] + 14, n[2]]), font: '5.3px ' + sans, color: '#444', align: 'left' }
]);

// panel D
panel(0, 1770, 830, 474, 1568, 1422, [
  shape(box(505, 785, 1135, 1110), markColor),
  shape(box(290, 880, 1350, 1130), markColor),
  shape([[110, 1140], [800, 1340], [1500, 1140], [1500, 1320], [800, 1345], [110, 1300]], markColor),
  links([[106, 127, 1507, 127, 1507, 1414, 106, 1414, 106, 127]], frameColor, 1.5),
  links(dLinks, '#ece6ec', 1, 0.3),
  bubbles(dNodes, dColors),
  bubbles(dRings, 'rgba(0,0,0,0)', { borderWidth: 2.5, borderColor: 'rgba(255,255,255,0.85)' }),
  bubbles(dHollow, 'rgba(0,0,0,0)', { borderWidth: 1.5, borderColor: '#e6e6e6' }),
  bubbles(dCores, '#b23a9a')
].concat(legendRows(dLegendColors, 131, 175, 1018, 22.7)), [
  { items: dFlorida, font: 'bold 12.2px ' + sans, color: redText, band: 'rgba(255,255,255,0.4)', bandHeight: 9 },
  { items: dTexasLabels, font: 'bold 9.5px ' + sans, color: redText, band: 'rgba(255,255,255,0.4)', bandHeight: 8 },
  { items: dMichigan, font: 'bold 15.5px ' + sans, color: redText, band: 'rgba(255,255,255,0.45)', bandHeight: 10 },
  { items: dSystemLabels, font: 'bold 13px ' + sans, color: redText, band: 'rgba(255,255,255,0.45)', bandHeight: 10 },
  { items: dTopLabels, font: 'bold 16px ' + sans, color: redText, band: 'rgba(255,255,255,0.45)', bandHeight: 10 },
  { items: dSmallLabels, font: 'bold 6.8px ' + sans, color: redText, band: 'rgba(255,255,255,0.4)', bandHeight: 6 },
  { items: legendText(153, 1018, 22.7), font: 'bold 4px ' + sans, color: '#111' }
], [
  { items: [['CiteSpace', 820, 460]], font: 'bold 148px ' + sans, color: '#fffbf8' }
]);

// panel E
panel(840, 0, 797, 530, 1568, 1568, [
  links([[1472, 0, 1472, 1300]], '#f8f8f8', 1),
  bubbles(eBrown, 'rgba(200,110,60,0.9)'),
  bubbles(eTeal, 'rgba(102,194,165,0.72)', { softShadow: 9 }),
  bubbles(eTealInner, 'rgba(60,190,160,0.55)', { softShadow: 5 }),
  bubbles(eOlive, 'rgba(110,130,100,0.5)', { softShadow: 5 }),
  bubbles(eMauve, 'rgba(150,135,150,0.5)', { softShadow: 5 }),
  bubbles(ePurple, 'rgba(142,68,173,0.6)', { softShadow: 6 }),
  bubbles(eGrey, 'rgba(175,175,175,0.75)', { softShadow: 5 }),
  bubbles(eRed, 'rgba(219,40,50,0.78)', { softShadow: 6 }),
  bubbles(eRedInner, 'rgba(226,24,34,0.82)', { softShadow: 6 }),
  bubbles(eGreen, 'rgba(76,175,80,0.7)', { softShadow: 4 }),
  bubbles(eOrange, 'rgba(247,140,20,0.78)', { softShadow: 4 }),
  bubbles(eBlue, 'rgba(36,120,188,0.66)', { softShadow: 5 })
], [
  { items: eFaintLabels, font: '9.3px ' + sans, color: 'rgba(40,40,40,0.3)' },
  { items: [['chinese academy of medical sciences - peking union medical college', 600, 495]], font: '9.3px ' + sans, color: '#14233a' },
  { items: [['st', 370, 893], ['of', 710, 895]], font: '21px ' + sans, color: 'rgba(40,40,40,0.3)' },
  { items: [['florida', 778, 893]], font: '21px ' + sans, color: '#111' }
]);

// panel F
const fByName = {};
fNodes.forEach(n => { fByName[n[0]] = n; });
panel(840, 510, 797, 580, 1568, 1568, [
  links(fEdges.map(e => [fByName[e[0]][1], fByName[e[0]][2], fByName[e[1]][1], fByName[e[1]][2]]), '#c6c6c6', 1.1),
  bubbles(fNodes.map(n => [n[1], n[2], n[3]]), '#4fc3ea')
], [
  { items: fNodes.map(n => [n[0], n[1], n[2] - 7]), font: '9.4px ' + sans, color: '#333', align: 'left' }
]);

// panel G
panel(840, 1140, 797, 700, 1568, 1568, [
  shape(gLightBlue, '#9fdcf8'),
  shape(gCanada, '#f99d1c'),
  polyline(gCanadaTail, '#e8751a', 2.4),
  shape(gCzech, '#fcdc58'),
  shape(gAustralia, '#4cb848'),
  shape(gAustraliaInner, '#a5d36b'),
  shape(gMalaysia, '#9bd04a'),
  shape(gIndia, '#8e4fa8'),
  shape(gIndiaHead, '#f4868e'),
  shape(gUk, '#8b4da8'),
  shape(gNetherlands, '#c79acb'),
  shape(gFranceTail, '#cf1f2e'),
  shape(gFranceHead, '#ed1c24'),
  shape(gBlue, '#3192d3', '#1b5e9e'),
  shape(gYellowTip, '#fbb03b'),
  links(gTicks, '#222', 1)
], [
  { items: gLabels, font: '14px ' + sans, color: '#222' }
]);

// panel H, cropped at its right side
panel(830, 1850, 306, 394, 595, 1182, [
  shape(box(210, 675, 595, 900), '#fffdfb'),
  shape([[100, 800], [370, 880], [90, 880]], '#fffcf9'),
  shape([[440, 880], [595, 810], [595, 880]], '#fffcf9'),
  bubbles(hYellow, 'rgba(243,241,60,0.85)'),
  bubbles(hInner, 'rgba(246,190,90,0.4)'),
  bubbles(hSmall, hSmallColors)
].concat(legendRows(hLegendColors, 32, 57, 913, 16.6)), [
  { items: [['PEOPLES R CHINA', 398, 650]], font: 'bold 12.3px ' + sans, color: redText },
  { items: [['INDIA', 400, 553], ['FRANCE', 435, 563]], font: 'bold 3.5px ' + sans, color: redText },
  { items: legendText(44, 913, 16.6), font: 'bold 2.8px ' + sans, color: '#111' }
], [
  { items: [['CiteSpace', 442, 445]], font: 'bold 62px ' + sans, color: '#fcfaf7', stretch: 1.55 }
]);

// panel I
panel(830, 1850, 807, 394, 1568, 1182, [
  bubbles(iBlue, 'rgba(50,125,195,0.56)', { softShadow: 6 }),
  bubbles(iPurple, 'rgba(140,75,165,0.52)', { softShadow: 6 }),
  shape(iIndiaTail, 'rgba(130,50,150,0.3)'),
  bubbles(iRed, 'rgba(219,40,50,0.6)', { softShadow: 6 }),
  bubbles(iGreen, 'rgba(70,175,85,0.5)', { softShadow: 6 })
], [
  { items: [['china', 1290, 450]], font: '52px ' + sans, color: '#111' },
  { items: [['usa', 798, 425]], font: '30px ' + sans, color: '#16263a' },
  { items: [['italy', 743, 507]], font: '18px ' + sans, color: 'rgba(30,30,30,0.35)' },
  { items: [['france', 1325, 372]], font: '22px ' + sans, color: 'rgba(30,30,30,0.35)' },
  { items: [['canada', 1420, 437]], font: '20px ' + sans, color: 'rgba(30,30,30,0.3)' },
  { items: [['united kingdom', 830, 825], ['india', 925, 876]], font: '20px ' + sans, color: 'rgba(30,30,30,0.4)' },
  { items: [['malaysia', 1455, 815]], font: '20px ' + sans, color: 'rgba(30,30,30,0.45)' },
  { items: [['australia', 1370, 865]], font: '20px ' + sans, color: 'rgba(30,30,30,0.35)' }
]);

tagNames.forEach((t, i) => {
  const el = document.createElement('div');
  el.className = 'tag';
  el.textContent = t;
  el.style.left = tagX[i] + 'px';
  el.style.top = tagY[i] + 'px';
  figure.appendChild(el);
});
</script>
</body>
</html>
